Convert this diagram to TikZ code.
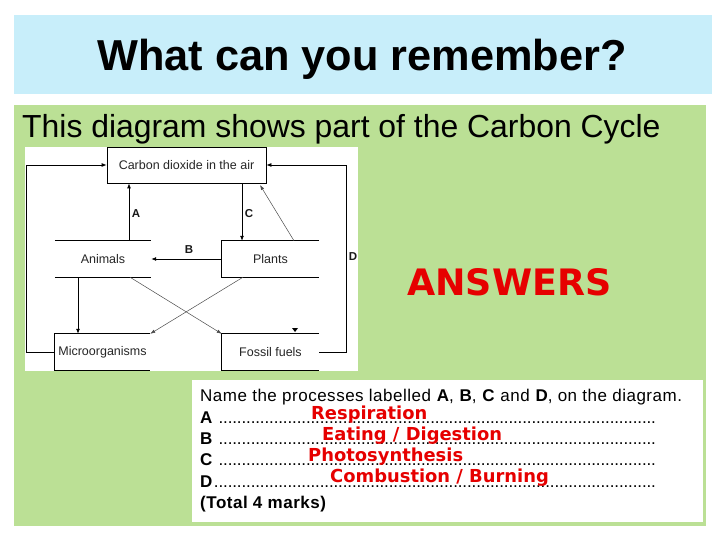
\documentclass[tikz,border=0pt]{standalone}
\usepackage{fontspec}
\setmainfont{Liberation Sans}
\newfontfamily\dejavu{DejaVu Sans}
\newfontfamily\qfont[LetterSpace=3]{Liberation Sans}
\usetikzlibrary{arrows.meta}
\definecolor{bandblue}{HTML}{C8EEFA}
\definecolor{panelgreen}{HTML}{BBE095}
\definecolor{ansred}{HTML}{E60000}
\newcommand\fsz[1]{\fontsize{#1}{#1}\selectfont}
\newcommand\dotrow[1]{\makebox[456pt][l]{#1\leaders\hbox to 4.6pt{\hss.\hss}\hfill}}
\begin{document}
\begin{tikzpicture}[x=1pt,y=-1pt,
  box/.style={rectangle, inner sep=0pt, minimum height=36pt, font=\fsz{12.5}, text=black!85},
  edge/.style={draw=black, line width=0.8pt},
  arr/.style={edge, -{Latex[length=5pt,width=4pt]}},
  thinarr/.style={draw=black!70, line width=0.5pt, -{Latex[length=5pt,width=3.5pt]}},
  lbl/.style={font=\fsz{11.5}\bfseries, text=black!90, inner sep=0pt},
  answer/.style={anchor=base west, inner sep=0pt, font=\dejavu\bfseries\fsz{17.9}, text=ansred},
  qtext/.style={anchor=base west, inner sep=0pt, font=\qfont\fsz{17}}]
\useasboundingbox (0,0) rectangle (720,540);
\fill[white] (0,0) rectangle (720,540);
% bands
\fill[bandblue] (14,15) rectangle (712,94);
\fill[panelgreen] (14,105) rectangle (706,526);
\node[anchor=base, inner sep=0pt, font=\fsz{43.3}\bfseries] (title) at (362,71) {What can you remember?};
\node[anchor=base west, inner sep=0pt, font=\fsz{31.9}] (intro) at (22,138) {This diagram shows part of the Carbon Cycle};
% diagram picture
\fill[white] (25,147) rectangle (358,371);
\node[box, minimum width=159pt, edge] (co2) at (186.5,165) {Carbon dioxide in the air};
\node[box, minimum width=96pt] (anim) at (103,259) {Animals};
\node[box, minimum width=97pt] (plants) at (270.5,259) {Plants};
\node[box, minimum width=95pt] (micro) at (102.5,352) {Microorganisms};
\node[box, minimum width=97pt] (fossil) at (270.5,352) {Fossil fuels};
\draw[edge] (anim.north west) -- (anim.north east) (anim.south west) -- (anim.south east);
\draw[edge] (plants.north east) -- (plants.north west) -- (plants.south west) -- (plants.south east);
\draw[edge] (micro.north east) -- (micro.north west) -- (micro.south west) -- (micro.south east);
\draw[edge] (fossil.north east) -- (fossil.north west) -- (fossil.south west) -- (fossil.south east);
\coordinate (xA) at (129,0);
\coordinate (xC) at (242,0);
\coordinate (xM) at (78,0);
\coordinate (xL) at (26,0);
\coordinate (xR) at (346,0);
\coordinate (xP) at (294,0);
\coordinate (xD1) at (130,0);
\coordinate (xD2) at (243,0);
\coordinate (tipP) at (260,185);
\draw[arr] (anim.north -| xA) -- (co2.south -| xA);
\draw[arr] (co2.south -| xC) -- (plants.north -| xC);
\draw[arr] (plants.west) -- (anim.east);
\draw[thinarr] (plants.north -| xP) -- (tipP);
\draw[arr] (micro.west) -- (micro.west -| xL) |- (co2.west);
\draw[arr] (fossil.east) -- (fossil.east -| xR) |- (co2.east);
\draw[arr] (anim.south -| xM) -- (micro.north -| xM);
\draw[thinarr] (anim.south -| xD1) -- (fossil.north west);
\draw[thinarr] (plants.south -| xD2) -- (micro.north east);
\fill[black] (292,328) -- (298,328) -- (295,332) -- cycle;
\node[lbl] (la) at (136,214) {A};
\node[lbl] (lc) at (249,214) {C};
\node[lbl] (lb) at (189,250) {B};
\node[lbl] (ld) at (353,257) {D};
% answers heading
\node[anchor=base west, inner sep=0pt, font=\dejavu\bfseries\fsz{36.4}, text=ansred] (answers) at (407,295) {ANSWERS};
% question box
\fill[white] (192,380) rectangle (703,522);
\node[qtext] (q0) at (200,401) {Name the processes labelled \textbf{A}, \textbf{B}, \textbf{C} and \textbf{D}, on the diagram.};
\node[qtext] (qa) at (200,423) {\dotrow{\textbf{A} }};
\node[qtext] (qb) at (200,444) {\dotrow{\textbf{B} }};
\node[qtext] (qc) at (200,465) {\dotrow{\textbf{C} }};
\node[qtext] (qd) at (200,487) {\dotrow{\textbf{D}}};
\node[qtext, font=\qfont\fsz{17}\bfseries] (qt) at (200,508) {(Total 4 marks)};
\node[answer] (ra) at (311,419) {Respiration};
\node[answer] (rb) at (322,440) {Eating / Digestion};
\node[answer] (rc) at (308,461) {Photosynthesis};
\node[answer] (rd) at (330,482) {Combustion / Burning};
\end{tikzpicture}
\end{document}
